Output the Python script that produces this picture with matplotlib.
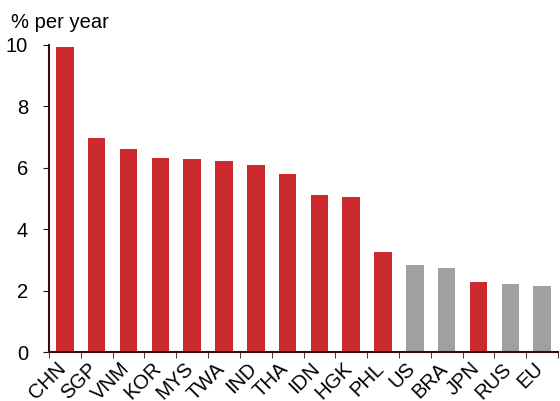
import numpy as np
import matplotlib
matplotlib.use('Agg')
import matplotlib.pyplot as plt
import matplotlib.transforms as mtransforms

plt.rcParams['font.family'] = ['Liberation Sans', 'DejaVu Sans']

countries = ['CHN', 'SGP', 'VNM', 'KOR', 'MYS', 'TWA', 'IND', 'THA', 'IDN', 'HGK',
             'PHL', 'US', 'BRA', 'JPN', 'RUS', 'EU']
growth = [9.92, 6.97, 6.62, 6.33, 6.27, 6.22, 6.1, 5.8, 5.12, 5.05,
          3.25, 2.85, 2.75, 2.28, 2.23, 2.15]
asia = [True] * 11 + [False, False, True, False, False]

red = '#CC2A2F'
grey = '#A0A0A0'
axcol = '#3B0A0A'

fig = plt.figure(figsize=(5.6, 4.01), dpi=100)
ax = fig.add_axes([0.0875, 0.122, 0.909, 0.766])

x = np.arange(len(countries))
cols = [red if a else grey for a in asia]
ax.bar(x, growth, width=0.55, color=cols)

ax.set_xlim(-0.5, len(countries) - 0.5)
ax.set_ylim(0, 10)
ax.set_yticks([0, 2, 4, 6, 8, 10])
ax.tick_params(axis='y', labelsize=14.5, length=4, color=axcol, direction='out', pad=11)

ax.set_xticks(x)
ax.set_xticklabels(countries, rotation=45, ha='right', va='top',
                   rotation_mode='anchor', fontsize=14.5)
ax.tick_params(axis='x', length=0, pad=5)
shift = mtransforms.ScaledTranslation(-9 / 100, 0, fig.dpi_scale_trans)
for lab in ax.get_xticklabels():
    lab.set_transform(lab.get_transform() + shift)
ax.set_xticks(np.arange(-0.5, len(countries)), minor=True)
ax.tick_params(axis='x', which='minor', length=4, color=axcol, direction='out')

for s in ['top', 'right']:
    ax.spines[s].set_visible(False)
for s in ['left', 'bottom']:
    ax.spines[s].set_color(axcol)
    ax.spines[s].set_linewidth(1.5)

fig.text(0.02, 0.945, '% per year', fontsize=14.5, va='center', ha='left')

fig.savefig('out.png', dpi=100)
